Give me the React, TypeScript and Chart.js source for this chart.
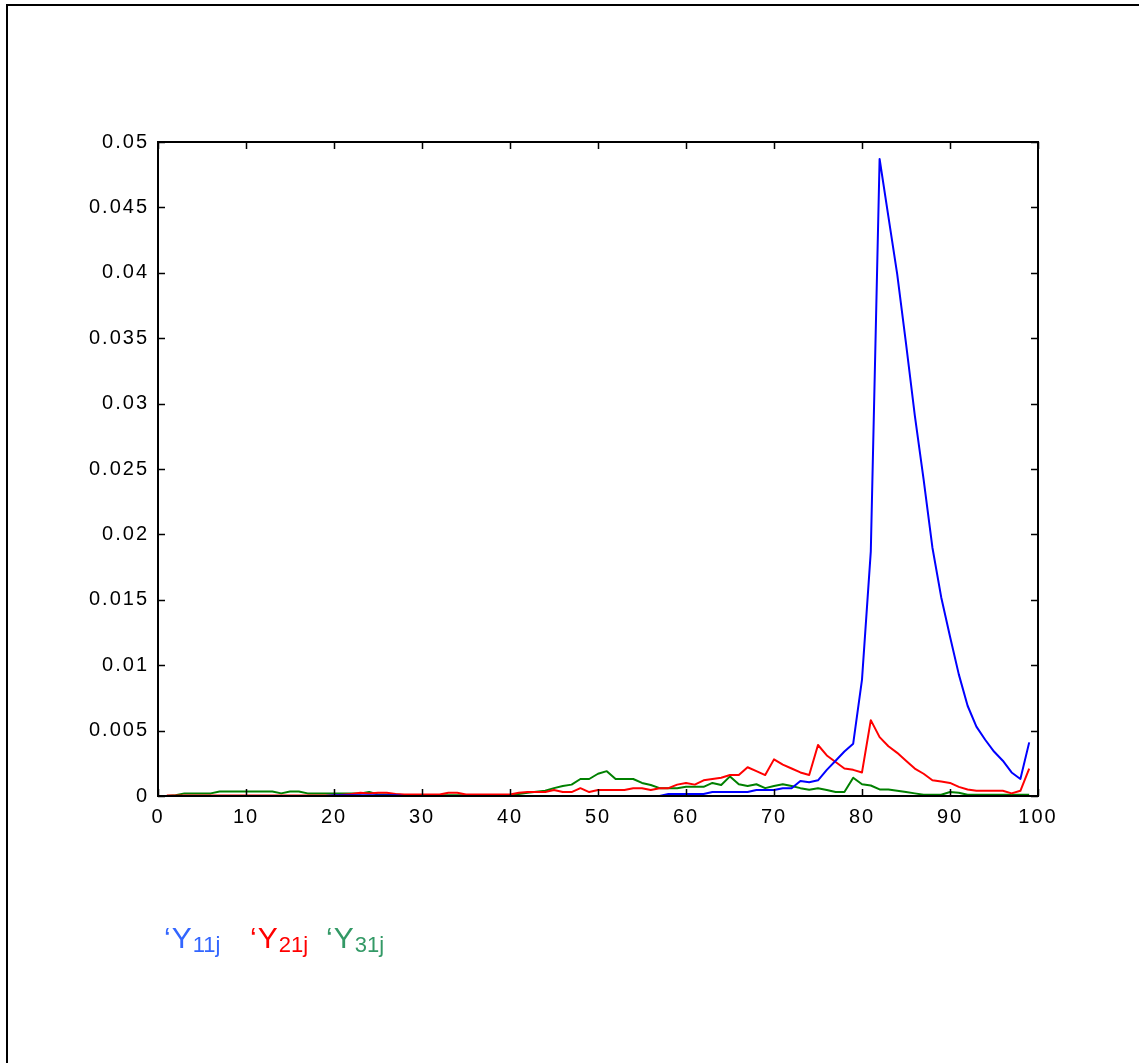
import { useEffect, useRef } from "react";
import { Chart, registerables } from "chart.js";

Chart.register(...registerables);

// Position index j = 1..99 along the horizontal axis
const positions: number[] = Array.from({ length: 99 }, (_, k) => k + 1);

const xTicks = [0, 10, 20, 30, 40, 50, 60, 70, 80, 90, 100];
const yTicks = [0, 0.005, 0.01, 0.015, 0.02, 0.025, 0.03, 0.035, 0.04, 0.045, 0.05];

// Y11j
const y11 = [
  0, 0, 0, 0, 0, 0, 0, 0, 0, 0,
  0, 0, 0, 0, 0, 0, 0, 0, 0, 0.00005,
  0.00005, 0.00005, 0.00005, 0.00005, 0.00005, 0.00005, 0.00005, 0, 0, 0,
  0, 0, 0, 0, 0, 0, 0, 0, 0, 0,
  0, 0, 0, 0, 0, 0, 0, 0, 0, 0,
  0, 0, 0, 0, 0, 0, 0, 0.00015, 0.00015, 0.00015,
  0.00015, 0.00015, 0.0003, 0.0003, 0.0003, 0.0003, 0.0003, 0.00046, 0.00046, 0.00046,
  0.0006, 0.0006, 0.00115, 0.00105, 0.0012, 0.002, 0.0027, 0.0034, 0.004, 0.0089,
  0.0187, 0.0487, 0.0443, 0.0399, 0.0346, 0.0291, 0.0242, 0.019, 0.0152, 0.0122,
  0.0093, 0.0069, 0.0053, 0.0043, 0.0034, 0.0027, 0.0018, 0.0013, 0.0041,
];

// Y21j
const y21 = [
  0.00003, 0.00003, 0.00003, 0.00003, 0.00003, 0.00003, 0.00003, 0.00003, 0.00003, 0.00003,
  0.00003, 0.00003, 0.00003, 0.00003, 0.00003, 0.00003, 0.00003, 0.00003, 0.00003, 0.00003,
  0.0001, 0.00015, 0.00025, 0.0002, 0.00025, 0.00025, 0.00015, 0.00012, 0.00012, 0.00012,
  0.00012, 0.00012, 0.00025, 0.00025, 0.00012, 0.00012, 0.00012, 0.00012, 0.00012, 0.00012,
  0.00025, 0.0003, 0.0003, 0.0003, 0.00046, 0.0003, 0.0003, 0.0006, 0.0003, 0.00046,
  0.00046, 0.00046, 0.00046, 0.0006, 0.0006, 0.00046, 0.0006, 0.0006, 0.00087, 0.001,
  0.00087, 0.0012, 0.0013, 0.0014, 0.0016, 0.0016, 0.0022, 0.0019, 0.0016, 0.0028,
  0.0024, 0.0021, 0.0018, 0.0016, 0.0039, 0.0031, 0.0026, 0.0021, 0.002, 0.0018,
  0.0058, 0.0045, 0.0038, 0.0033, 0.0027, 0.0021, 0.0017, 0.0012, 0.0011, 0.001,
  0.0007, 0.0005, 0.0004, 0.0004, 0.0004, 0.0004, 0.0002, 0.0004, 0.0021,
];

// Y31j
const y31 = [
  0, 0.00005, 0.0002, 0.0002, 0.0002, 0.0002, 0.00035, 0.00035, 0.00035, 0.00035,
  0.00035, 0.00035, 0.00035, 0.0002, 0.00035, 0.00035, 0.0002, 0.0002, 0.0002, 0.0002,
  0.0002, 0.0002, 0.0002, 0.0003, 0.00012, 0.00012, 0.00012, 0.00005, 0.00005, 0.00005,
  0.00005, 0.00005, 0.00005, 0.00005, 0.00005, 0.00005, 0.00005, 0.00005, 0.00005, 0.00005,
  0.00015, 0.00025, 0.00033, 0.0004, 0.0006, 0.00077, 0.00087, 0.0013, 0.0013, 0.0017,
  0.0019, 0.0013, 0.0013, 0.0013, 0.001, 0.00084, 0.0006, 0.0006, 0.0006, 0.0007,
  0.0007, 0.0007, 0.001, 0.00084, 0.0015, 0.0009, 0.00077, 0.0009, 0.0006, 0.00077,
  0.0009, 0.00077, 0.0006, 0.00048, 0.0006, 0.00046, 0.0003, 0.0003, 0.0014, 0.0009,
  0.0008, 0.0005, 0.0005, 0.0004, 0.0003, 0.0002, 0.0001, 0.0001, 0.0001, 0.0003,
  0.00025, 0.0001, 0.0001, 0.0001, 0.0001, 0.0001, 0.0001, 0.0001, 0.0001,
];

const seriesNames = ["Y11j", "Y21j", "Y31j"];
const lineColors = ["#0000ff", "#ff0000", "#008000"];

const legendItems = [
  { sub: "11j", color: "#3366ff", left: 164 },
  { sub: "21j", color: "#ff0000", left: 250 },
  { sub: "31j", color: "#339966", left: 326 },
];

const FONT = '"Liberation Sans", Arial, sans-serif';

const toPoints = (vals: number[]) => vals.map((v, k) => ({ x: positions[k], y: v }));

// Frame around the plot area plus inward-pointing ticks on all four sides
const frameTicks = {
  id: "frameTicks",
  afterDatasetsDraw(chart: any) {
    const { ctx, chartArea: a, scales } = chart;
    const xs = scales.x;
    const ys = scales.y;
    const len = 7;
    ctx.save();
    ctx.strokeStyle = "#000";
    ctx.lineWidth = 1.5;
    ctx.beginPath();
    xs.ticks.forEach((t: any) => {
      const px = Math.round(xs.getPixelForValue(t.value)) + 0.5;
      ctx.moveTo(px, a.bottom);
      ctx.lineTo(px, a.bottom - len);
      ctx.moveTo(px, a.top);
      ctx.lineTo(px, a.top + len);
    });
    ys.ticks.forEach((t: any) => {
      const py = Math.round(ys.getPixelForValue(t.value)) + 0.5;
      ctx.moveTo(a.left, py);
      ctx.lineTo(a.left + len, py);
      ctx.moveTo(a.right, py);
      ctx.lineTo(a.right - len, py);
    });
    ctx.stroke();
    ctx.lineWidth = 2;
    ctx.strokeRect(a.left, a.top, a.right - a.left, a.bottom - a.top);
    ctx.restore();
  },
};

// Wider character spacing for the tick labels
const spacing = {
  id: "spacing",
  beforeDraw(chart: any) {
    chart.ctx.letterSpacing = "2px";
  },
};

export default function App() {
  const canvasRef = useRef<HTMLCanvasElement | null>(null);

  useEffect(() => {
    const canvas = canvasRef.current;
    if (!canvas) return;
    const datasets = [y11, y21, y31].map((vals, k) => ({
      label: seriesNames[k],
      data: toPoints(vals),
      borderColor: lineColors[k],
      backgroundColor: lineColors[k],
      borderWidth: 2,
      pointRadius: 0,
      tension: 0,
      fill: false,
      borderJoinStyle: "round" as const,
    }));

    const chart = new Chart(canvas, {
      type: "line",
      data: { datasets },
      plugins: [spacing, frameTicks],
      options: {
        animation: false,
        responsive: false,
        devicePixelRatio: 1,
        layout: { padding: { left: 0, top: 142, right: 101, bottom: 217 } },
        plugins: {
          legend: { display: false },
          tooltip: { enabled: false },
        },
        scales: {
          x: {
            type: "linear",
            min: 0,
            max: 100,
            grid: { display: false, drawTicks: false },
            border: { display: false },
            afterBuildTicks: (s: any) => {
              s.ticks = xTicks.map((v) => ({ value: v }));
            },
            afterFit: (s: any) => {
              s.height = 50;
            },
            ticks: {
              padding: 9,
              color: "#000",
              font: { family: FONT, size: 20 },
              maxRotation: 0,
              autoSkip: false,
              callback: (v: any) => String(v),
            },
          },
          y: {
            type: "linear",
            min: 0,
            max: 0.05,
            grid: { display: false, drawTicks: false },
            border: { display: false },
            afterBuildTicks: (s: any) => {
              s.ticks = yTicks.map((v) => ({ value: v }));
            },
            afterFit: (s: any) => {
              s.width = 158;
            },
            ticks: {
              padding: 9,
              color: "#000",
              font: { family: FONT, size: 20 },
              autoSkip: false,
              callback: (v: any) => String(v),
            },
          },
        },
      },
    });
    return () => chart.destroy();
  }, []);

  return (
    <div
      style={{
        position: "fixed",
        left: 0,
        top: 0,
        width: 1139,
        height: 1063,
        overflow: "hidden",
        background: "#fff",
      }}
    >
      <div
        style={{
          position: "absolute",
          left: 6,
          top: 4,
          width: 1300,
          height: 1200,
          border: "2px solid #000",
        }}
      />
      <canvas
        ref={canvasRef}
        width={1139}
        height={1063}
        style={{ position: "absolute", left: 0, top: 0, width: 1139, height: 1063 }}
      />
      {legendItems.map((it) => (
        <div
          key={it.sub}
          style={{
            position: "absolute",
            left: it.left,
            top: 923,
            fontFamily: FONT,
            fontSize: 30,
            lineHeight: "30px",
            color: it.color,
            whiteSpace: "nowrap",
          }}
        >
          {"\u2018"}
          <span style={{ marginLeft: 1 }}>Y</span>
          <span style={{ fontSize: 22, position: "relative", top: 4, marginLeft: 1 }}>{it.sub}</span>
        </div>
      ))}
    </div>
  );
}
